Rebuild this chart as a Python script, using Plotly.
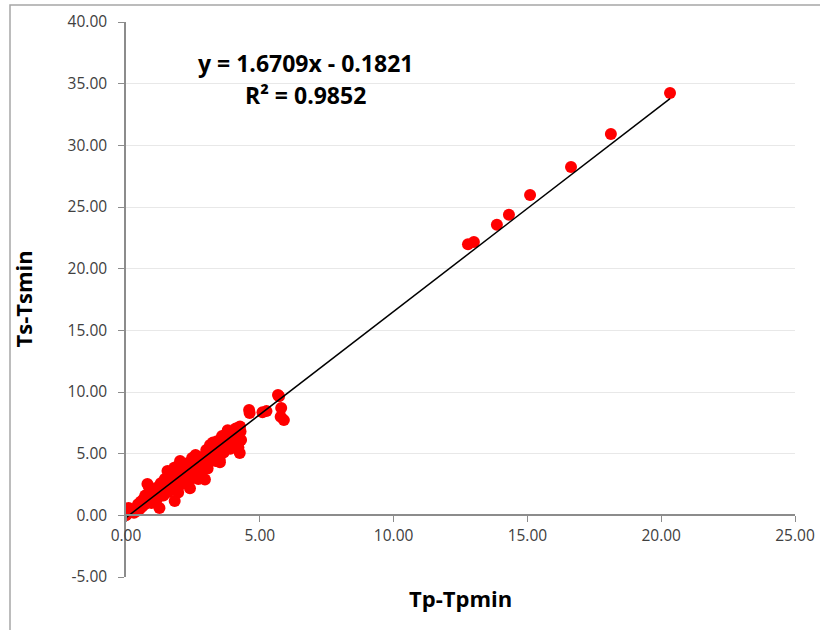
import plotly.graph_objects as go

# Measured temperature differences (Tp-Tpmin vs Ts-Tsmin)
tp_diff = [
    0.00, 0.05, 0.10, 0.20, 0.30, 0.35, 0.40, 0.45, 0.50, 0.55, 0.60, 0.65, 0.70, 0.72,
    0.80, 0.85, 0.88, 0.90, 0.95, 1.00, 1.05, 1.10, 1.15, 1.20, 1.25, 1.28, 1.30, 1.35,
    1.40, 1.45, 1.50, 1.55, 1.58, 1.60, 1.65, 1.70, 1.75, 1.80, 1.82, 1.85, 1.90, 1.94,
    1.95, 2.00, 2.02, 2.05, 2.10, 2.15, 2.20, 2.25, 2.30, 2.35, 2.39, 2.40, 2.45, 2.47,
    2.50, 2.55, 2.60, 2.65, 2.70, 2.72, 2.77, 2.80, 2.85, 2.90, 2.95, 3.00, 3.02, 3.05,
    3.10, 3.14, 3.15, 3.20, 3.25, 3.30, 3.35, 3.40, 3.45, 3.50, 3.51, 3.55, 3.59, 3.60,
    3.65, 3.70, 3.75, 3.80, 3.85, 3.90, 3.95, 4.00, 4.05, 4.10, 4.15, 4.20, 4.22, 4.25,
    4.26, 4.28, 4.30, 4.60, 4.62, 5.10, 5.25, 5.68, 5.72, 5.78, 5.80, 5.90,
    12.78, 13.00, 13.86, 14.31, 15.10, 16.63, 18.12, 20.33,
]
ts_diff = [
    0.00, 0.15, 0.60, 0.30, 0.20, 0.55, 0.35, 0.90, 0.50, 1.10, 0.70, 1.30, 0.90, 1.60,
    2.55, 2.35, 1.20, 1.50, 1.00, 1.80, 1.40, 2.00, 1.30, 2.30, 0.60, 1.70, 2.60, 2.10,
    1.60, 2.95, 2.40, 3.60, 1.90, 2.70, 3.20, 2.20, 3.00, 3.85, 1.16, 2.60, 3.40, 4.00,
    1.85, 3.10, 4.40, 2.50, 3.70, 2.90, 3.30, 4.20, 3.60, 2.80, 2.20, 3.90, 4.40, 4.65,
    3.50, 4.00, 4.90, 3.80, 2.95, 4.50, 3.00, 4.20, 3.60, 4.80, 2.90, 5.30, 4.30, 3.80,
    5.00, 5.70, 5.60, 4.60, 5.90, 5.20, 4.40, 6.00, 5.50, 4.50, 4.30, 6.20, 6.43, 5.80,
    5.10, 6.50, 5.60, 6.90, 6.10, 5.40, 6.70, 6.30, 5.80, 7.05, 6.60, 5.50, 6.20, 5.05,
    7.20, 6.80, 6.10, 8.55, 8.30, 8.35, 8.45, 9.75, 9.65, 8.00, 8.70, 7.72,
    21.98, 22.16, 23.56, 24.37, 25.97, 28.24, 30.92, 34.24,
]

# Axis ticks
x_ticks = [0, 5, 10, 15, 20, 25]
y_ticks = [-5, 0, 5, 10, 15, 20, 25, 30, 35, 40]
x_tick_labels = ["0.00", "5.00", "10.00", "15.00", "20.00", "25.00"]
y_tick_labels = ["-5.00", "0.00", "5.00", "10.00", "15.00", "20.00",
                 "25.00", "30.00", "35.00", "40.00"]

# Linear trend line coefficients
slope = 1.6709
intercept = -0.1821
r_squared = 0.9852

x_line = [0.0, max(tp_diff)]
y_line = [slope * v + intercept for v in x_line]

fig = go.Figure()
fig.add_trace(go.Scatter(
    x=tp_diff, y=ts_diff, mode="markers",
    marker=dict(color="#ff0000", size=12, line=dict(width=0)),
    showlegend=False, hoverinfo="x+y",
))
fig.add_trace(go.Scatter(
    x=x_line, y=y_line, mode="lines",
    line=dict(color="#000000", width=1.5),
    showlegend=False, hoverinfo="skip",
))

W, H = 820, 630
ml, mr, mt, mb = 126, 25, 22, 53
plot_h = H - mt - mb
pw = W - ml - mr
y_min, y_max = y_ticks[0], y_ticks[-1]
zero_pos = (0 - y_min) / (y_max - y_min)

axis_grey = "#8c8c8c"
tick_font = dict(family="Open Sans, sans-serif", size=15.5, color="#404040")

fig.update_layout(
    width=W, height=H,
    margin=dict(l=ml, r=mr, t=mt, b=mb, autoexpand=False),
    paper_bgcolor="white", plot_bgcolor="white",
    xaxis=dict(
        range=[x_ticks[0], x_ticks[-1]],
        tickmode="array", tickvals=x_ticks, ticktext=x_tick_labels,
        showgrid=False, zeroline=False, automargin=False,
        showline=True, linecolor=axis_grey, linewidth=1.5,
        ticks="outside", ticklen=6, tickcolor=axis_grey,
        tickfont=tick_font,
        anchor="free", position=zero_pos,
    ),
    yaxis=dict(
        range=[y_min, y_max],
        tickmode="array", tickvals=y_ticks, ticktext=y_tick_labels,
        showgrid=True, gridcolor="#e8e8e8", gridwidth=1.2, zeroline=False,
        automargin=False,
        showline=True, linecolor=axis_grey, linewidth=1.5,
        ticks="outside", ticklen=6, tickcolor=axis_grey,
        tickfont=tick_font, ticklabelstandoff=8,
    ),
    font=dict(family="Open Sans, sans-serif"),
)

title_font = dict(family="Open Sans, sans-serif", size=22, color="#000000")
fig.add_annotation(
    text="<b>Tp-Tpmin</b>", xref="paper", yref="paper",
    x=0.5, y=(H - 598 - mb) / plot_h, showarrow=False,
    xanchor="center", yanchor="middle", font=title_font,
)
fig.add_annotation(
    text="<b>Ts-Tsmin</b>", xref="paper", yref="paper",
    x=(22 - ml) / pw, y=0.5, showarrow=False, textangle=-90,
    xanchor="center", yanchor="middle", font=title_font,
)
eq_font = dict(family="Open Sans, sans-serif", size=23, color="#000000")
fig.add_annotation(
    text=f"<b>y = {slope:.4f}x - {abs(intercept):.4f}</b>",
    xref="paper", yref="paper", x=(305 - ml) / pw,
    y=(H - 63 - mb) / plot_h, showarrow=False,
    xanchor="center", yanchor="middle", font=eq_font,
)
fig.add_annotation(
    text=f"<b>R² = {r_squared:.4f}</b>",
    xref="paper", yref="paper", x=(305 - ml) / pw,
    y=(H - 95 - mb) / plot_h, showarrow=False,
    xanchor="center", yanchor="middle", font=eq_font,
)

# Chart frame (right and bottom edges fall outside the page)
fig.add_shape(
    type="rect", xref="paper", yref="paper", layer="below",
    x0=(10 - ml) / pw, x1=(840 - ml) / pw,
    y0=(H - 650 - mb) / plot_h, y1=(H - 5 - mb) / plot_h,
    line=dict(color="#a6a6a6", width=1.5), fillcolor="rgba(0,0,0,0)",
)

fig.write_html("out.html")
